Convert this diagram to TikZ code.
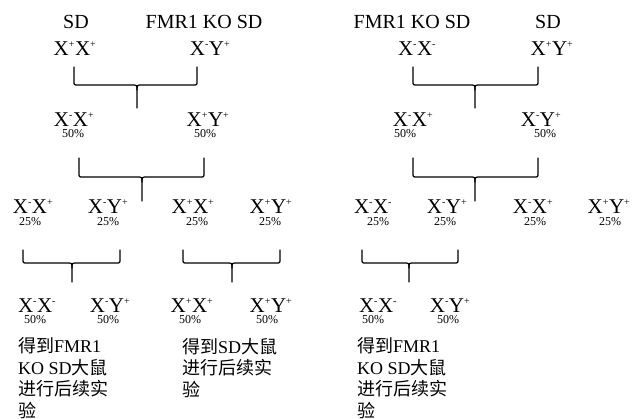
\documentclass[tikz,border=0pt]{standalone}
\usepackage{fontspec}
\setmainfont{Liberation Serif}
\newfontfamily\cjk{Noto Sans CJK SC}
\newcommand{\gp}{\textsuperscript{\fontsize{10}{10}\selectfont +}}
\newcommand{\gm}{\textsuperscript{\fontsize{10}{10}\selectfont -}}
\newcommand{\brk}[7]{% name, l, r, m, top, h, bot
  \coordinate (#1-l) at (#2,#5);
  \coordinate (#1-r) at (#3,#5);
  \coordinate (#1-m) at (#4,#7);
  \draw[brace] (#1-l) -- (#2,#6-4) .. controls (#2,#6) .. (#2+4,#6) -- (#4-5,#6) .. controls (#4,#6) .. (#4,#6+5) -- (#1-m);
  \draw[brace] (#1-r) -- (#3,#6-4) .. controls (#3,#6) .. (#3-4,#6) -- (#4+5,#6) .. controls (#4,#6) .. (#4,#6+5);
}
\begin{document}
\begin{tikzpicture}[x=1pt,y=-1pt,
  title/.style={font=\fontsize{20}{24}\selectfont, inner sep=0pt, anchor=base},
  geno/.style={font=\fontsize{21}{24}\selectfont, inner sep=0pt, anchor=base},
  pct/.style={font=\fontsize{12}{14}\selectfont, inner sep=0pt, anchor=base},
  note/.style={font=\fontsize{18}{21.5}\selectfont, inner sep=0pt, anchor=base west, align=left},
  brace/.style={line width=1.2pt, line cap=round}]
\useasboundingbox (0,0) rectangle (640,418);
% ---------- left cross ----------
\node[title] (lt1) at (76,28) {SD};
\node[title] (lt2) at (204,28) {FMR1 KO SD};
\node[geno] (lg1) at (75,55) {X\gp X\gp};
\node[geno] (lg2) at (210,55) {X\gm Y\gp};
\brk{lb1}{74}{197}{137}{67}{85}{108}
\node[geno] (l2a) at (74,126) {X\gm X\gp};
\node[geno] (l2b) at (208,126) {X\gp Y\gp};
\node[pct] (l2ap) at (73,137.5) {50\%};
\node[pct] (l2bp) at (205,137.5) {50\%};
\brk{lb2}{79}{204}{142}{158}{177}{201}
\node[geno] (l3a) at (33,213) {X\gm X\gp};
\node[geno] (l3b) at (108,213) {X\gm Y\gp};
\node[geno] (l3c) at (193,213) {X\gp X\gp};
\node[geno] (l3d) at (271,213) {X\gp Y\gp};
\node[pct] (l3ap) at (30,225.5) {25\%};
\node[pct] (l3bp) at (108,225.5) {25\%};
\node[pct] (l3cp) at (197,225.5) {25\%};
\node[pct] (l3dp) at (270,225.5) {25\%};
\brk{lb3}{23}{120}{72}{250}{263}{282}
\brk{lb4}{183}{280}{232}{250}{263}{282}
\node[geno] (l4a) at (37,312) {X\gm X\gm};
\node[geno] (l4b) at (110,312) {X\gm Y\gp};
\node[geno] (l4c) at (192,312) {X\gp X\gp};
\node[geno] (l4d) at (271,312) {X\gp Y\gp};
\node[pct] (l4ap) at (35,323) {50\%};
\node[pct] (l4bp) at (108,323) {50\%};
\node[pct] (l4cp) at (190,323) {50\%};
\node[pct] (l4dp) at (267,323) {50\%};
\node[note] (ln1) at (18,417) {{\cjk 得到}FMR1\\KO SD{\cjk 大鼠}\\{\cjk 进行后续实}\\{\cjk 验}};
\node[note] (ln2) at (182,396) {{\cjk 得到}SD{\cjk 大鼠}\\{\cjk 进行后续实}\\{\cjk 验}};
% ---------- right cross ----------
\node[title] (rt1) at (412,28) {FMR1 KO SD};
\node[title] (rt2) at (548,28) {SD};
\node[geno] (rg1) at (417,55) {X\gm X\gm};
\node[geno] (rg2) at (552,55) {X\gp Y\gp};
\brk{rb1}{413}{538}{475}{67}{85}{108}
\node[geno] (r2a) at (413,126) {X\gm X\gp};
\node[geno] (r2b) at (541,126) {X\gm Y\gp};
\node[pct] (r2ap) at (405,137.5) {50\%};
\node[pct] (r2bp) at (545,137.5) {50\%};
\brk{rb2}{413}{538}{475}{158}{177}{201}
\node[geno] (r3a) at (373,213) {X\gm X\gm};
\node[geno] (r3b) at (447,213) {X\gm Y\gp};
\node[geno] (r3c) at (533,213) {X\gm X\gp};
\node[geno] (r3d) at (609,213) {X\gp Y\gp};
\node[pct] (r3ap) at (378,225.5) {25\%};
\node[pct] (r3bp) at (445,225.5) {25\%};
\node[pct] (r3cp) at (535,225.5) {25\%};
\node[pct] (r3dp) at (610,225.5) {25\%};
\brk{rb3}{362}{458}{409}{250}{263}{282}
\node[geno] (r4a) at (378,312) {X\gm X\gm};
\node[geno] (r4b) at (450,312) {X\gm Y\gp};
\node[pct] (r4ap) at (373,323) {50\%};
\node[pct] (r4bp) at (448,323) {50\%};
\node[note] (rn1) at (357,417) {{\cjk 得到}FMR1\\KO SD{\cjk 大鼠}\\{\cjk 进行后续实}\\{\cjk 验}};
\end{tikzpicture}
\end{document}
